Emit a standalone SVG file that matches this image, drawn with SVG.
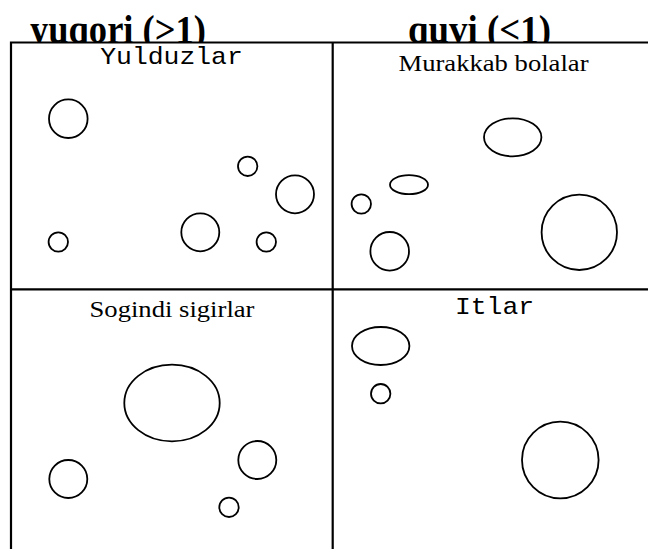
<svg xmlns="http://www.w3.org/2000/svg" width="648" height="549" viewBox="0 0 648 549">
  <style>
    .hdr { font-family: "Liberation Serif", "Times New Roman", serif; font-weight: bold; font-size: 35px; fill: #000; }
    .serif { font-family: "Liberation Serif", "Times New Roman", serif; font-size: 24px; fill: #000; text-anchor: middle; }
    .mono { font-family: "Courier New", "Liberation Mono", monospace; font-size: 24px; fill: #000; text-anchor: middle; }
    .grid { stroke: #000; stroke-width: 2.2; fill: none; }
    .blob { stroke: #000; stroke-width: 1.8; fill: #fff; }
  </style>
  <defs>
    <!-- headings sit on the top edge of the panels; anything below it is cut off -->
    <clipPath id="above-panels">
      <rect x="0" y="0" width="648" height="42.5"/>
    </clipPath>
  </defs>
  <rect width="648" height="549" fill="#fff"/>

  <!-- column headings -->
  <g id="headings" clip-path="url(#above-panels)">
    <text class="hdr" transform="translate(30 43) scale(1 1.12)" textLength="176" lengthAdjust="spacingAndGlyphs">yuqori (&gt;1)</text>
    <text class="hdr" transform="translate(408 43) scale(1 1.12)" textLength="143" lengthAdjust="spacingAndGlyphs">quvi (&lt;1)</text>
  </g>

  <!-- quadrant grid -->
  <g id="grid">
    <path class="grid" d="M11 549 V42.5 H648"/>
    <path class="grid" d="M332.7 42.5 V549"/>
    <path class="grid" d="M11 289.3 H648"/>
  </g>

  <!-- top-left panel -->
  <g id="yulduzlar">
    <text class="mono" transform="translate(171.5 64) scale(1.1 1)">Yulduzlar</text>
    <circle class="blob" cx="68.3" cy="118.7" r="19.3"/>
    <circle class="blob" cx="247.7" cy="166.3" r="9.7"/>
    <circle class="blob" cx="295" cy="194.3" r="19"/>
    <circle class="blob" cx="58.3" cy="242" r="9.7"/>
    <circle class="blob" cx="200.3" cy="232.3" r="19"/>
    <circle class="blob" cx="266.3" cy="242" r="9.7"/>
  </g>

  <!-- top-right panel -->
  <g id="murakkab-bolalar">
    <text class="serif" transform="translate(493.5 70.7) scale(1.11 1)">Murakkab bolalar</text>
    <ellipse class="blob" cx="512.7" cy="137.3" rx="28.7" ry="19"/>
    <ellipse class="blob" cx="409" cy="184.7" rx="19" ry="9.5"/>
    <circle class="blob" cx="361.3" cy="204" r="9.7"/>
    <circle class="blob" cx="389.7" cy="251.3" r="19.3"/>
    <circle class="blob" cx="579.3" cy="232.3" r="37.7"/>
  </g>

  <!-- bottom-left panel -->
  <g id="sogindi-sigirlar">
    <text class="serif" transform="translate(172 317) scale(1.11 1)">Sogindi sigirlar</text>
    <ellipse class="blob" cx="172" cy="403" rx="47.7" ry="38.3"/>
    <circle class="blob" cx="257.3" cy="460" r="19"/>
    <circle class="blob" cx="68.3" cy="479" r="19"/>
    <circle class="blob" cx="229" cy="507.3" r="9.7"/>
  </g>

  <!-- bottom-right panel -->
  <g id="itlar">
    <text class="mono" transform="translate(494.5 314) scale(1.1 1)">Itlar</text>
    <ellipse class="blob" cx="380.7" cy="346" rx="28.7" ry="19"/>
    <circle class="blob" cx="380.7" cy="393.7" r="9.7"/>
    <circle class="blob" cx="560.3" cy="460" r="38.3"/>
  </g>
</svg>
